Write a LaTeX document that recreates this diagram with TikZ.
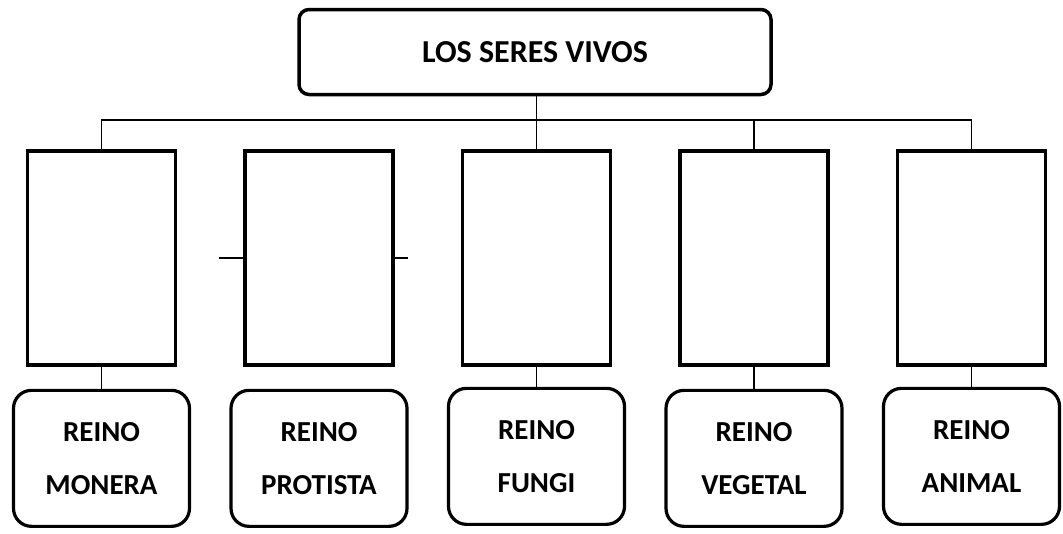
\documentclass[tikz,border=0pt]{standalone}
\usepackage{fontspec}
\setmainfont{Carlito}
\usetikzlibrary{chains,positioning}

\begin{document}
\begin{tikzpicture}[x=1pt,y=1pt,
  caja/.style={draw,line width=3.5pt,minimum width=148pt,minimum height=214pt,inner sep=0pt},
  reino/.style={draw,line width=3.2pt,rounded corners=18pt,minimum width=176pt,minimum height=136pt,
    align=center,font=\fontsize{29}{53}\selectfont\bfseries},
  lin/.style={line width=1.3pt}]
\useasboundingbox (0,0) rectangle (1063,-533);
\node[draw,line width=3.5pt,rounded corners=10pt,minimum width=472pt,minimum height=85pt,
  font=\fontsize{32}{38}\selectfont\bfseries] (seres) at (535,-52) {LOS SERES VIVOS};
\path[start chain=K going right,node distance=66pt,nodes={on chain,caja}]
    node[at={(101.5,-258)}] (monera) {}
    node (protista) {}
    node (fungi) {}
    node (vegetal) {}
    node (animal) {};

\node[reino,below=22pt of monera]   (rmonera)   {REINO\\MONERA};
\node[reino,below=22pt of protista] (rprotista) {REINO\\PROTISTA};
\node[reino,below=20pt of fungi]    (rfungi)    {REINO\\FUNGI};
\node[reino,below=22pt of vegetal]  (rvegetal)  {REINO\\VEGETAL};
\node[reino,below=20pt of animal]   (ranimal)   {REINO\\ANIMAL};

\coordinate (barra) at (0,-120);
\coordinate[left=24pt of protista.west] (pizq);
\coordinate[right=13pt of protista.east] (pder);

\draw[lin] (fungi.north |- seres.south) -- (fungi.north);
\draw[lin] (monera.north) |- (barra -| animal.north) -- (animal.north);
\draw[lin] (vegetal.north) -- (vegetal.north |- barra);
\draw[lin] (pizq) -- (protista.west);
\draw[lin] (protista.east) -- (pder);
\foreach \r in {monera,fungi,vegetal,animal}
  \draw[lin] (\r.south) -- (r\r.north);
\end{tikzpicture}
\end{document}
